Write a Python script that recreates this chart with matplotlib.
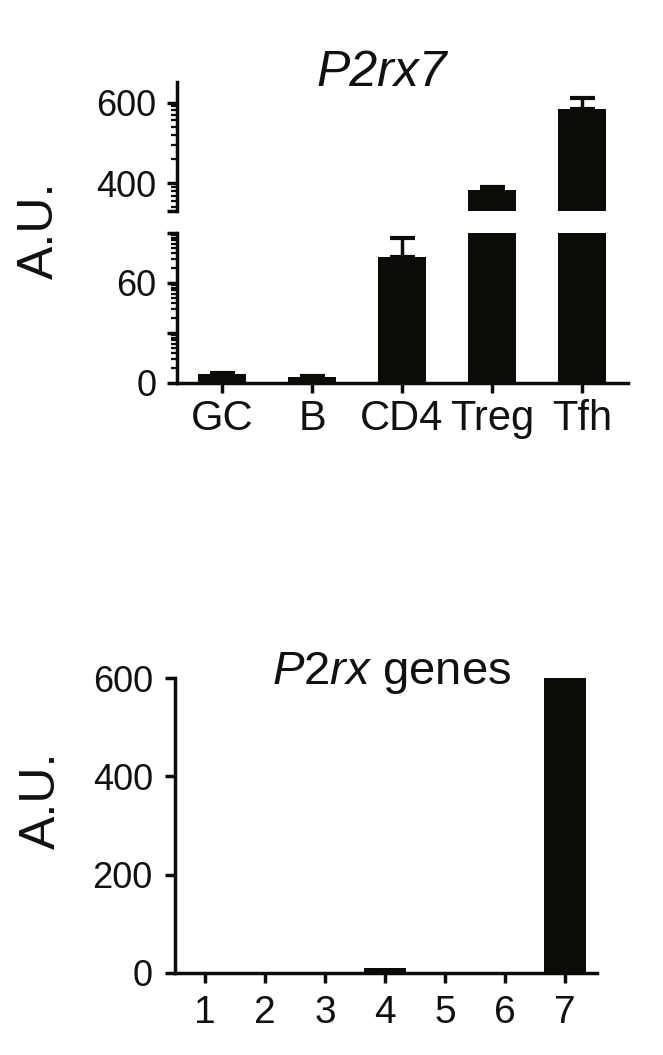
import numpy as np
import matplotlib
matplotlib.use("Agg")
import matplotlib.pyplot as plt

plt.rcParams['font.family'] = ['Liberation Sans', 'DejaVu Sans']
plt.rcParams['mathtext.fontset'] = 'custom'
plt.rcParams['mathtext.rm'] = 'Liberation Sans'
plt.rcParams['mathtext.it'] = 'Liberation Sans:italic'

# P2rx7 expression per cell type
cells = ['GC', 'B', 'CD4', 'Treg', 'Tfh']
p2rx7_mean = [5.0, 3.5, 75.5, 383, 584]
p2rx7_sem = [0.8, 0.5, 11.5, 8, 27]

# P2rx family genes
genes = ['1', '2', '3', '4', '5', '6', '7']
genes_val = [0, 0, 0, 9, 0, 0, 600]

dark = '#0d0b07'
txt = '#111111'
W, H = 663, 1055


def px_box(left, top, right, bottom):
    return [left / W, 1 - bottom / H, (right - left) / W, (bottom - top) / H]


def log_minor(starts, step, lo, hi):
    out = []
    for a in starts:
        for k in range(2, 10):
            v = a + step * np.log10(k)
            if lo < v < hi:
                out.append(v)
    return out


def style(ax):
    for s in ['top', 'right']:
        ax.spines[s].set_visible(False)
    for s in ['left', 'bottom']:
        ax.spines[s].set_linewidth(2.5)
        ax.spines[s].set_color(dark)
    ax.tick_params(which='major', direction='out', length=7, width=2.5, color=dark)
    ax.tick_params(which='minor', direction='out', length=4, width=1.6, color=dark)
    ax.tick_params(axis='y', labelsize=26, labelcolor=txt, pad=8)


fig = plt.figure(figsize=(W / 100, H / 100), dpi=100)

# --- top: broken axis ---
ax_hi = fig.add_axes(px_box(177, 82, 628, 211))
ax_lo = fig.add_axes(px_box(177, 232.7, 628, 382.7))
x = np.arange(len(cells))
lower_err = np.zeros(len(cells))
for ax in (ax_hi, ax_lo):
    ax.bar(x, p2rx7_mean, width=0.53, color=dark, zorder=2)
    ax.errorbar(x, p2rx7_mean, yerr=[lower_err, p2rx7_sem], fmt='none',
                ecolor=dark, elinewidth=2.5, capsize=9, capthick=3, zorder=3)
    ax.set_xlim(-0.5, 4.51)
    style(ax)

ax_hi.set_ylim(331, 651)
ax_hi.spines['bottom'].set_visible(False)
ax_hi.set_xticks([])
ax_hi.set_yticks([331, 400, 600])
ax_hi.set_yticklabels(['', '400', '600'])
ax_hi.set_yticks(log_minor([200, 400, 600], 200, 331, 651), minor=True)

ax_lo.set_ylim(0, 90)
ax_lo.set_yticks([0, 30, 60, 90])
ax_lo.set_yticklabels(['0', '', '60', ''])
ax_lo.set_yticks(log_minor([0, 30, 60], 30, 0, 90), minor=True)
ax_lo.set_xticks(x)
ax_lo.set_xticklabels(cells)
ax_lo.tick_params(axis='x', labelsize=30, labelcolor=txt, pad=5)

fig.text(381.7 / W, 1 - 86 / H, 'P2rx7', style='italic', fontsize=36,
         ha='center', va='baseline', color=txt)
fig.text(40 / W, 1 - 230 / H, 'A.U.', rotation=90, fontsize=36,
         ha='center', va='center', color=txt)

# --- bottom: P2rx genes ---
ax_b = fig.add_axes(px_box(175, 678.3, 596.7, 972.7))
xb = np.arange(1, len(genes) + 1)
ax_b.bar(xb, genes_val, width=0.69, color=dark)
ax_b.set_xlim(0.5, 7.53)
ax_b.set_ylim(0, 600)
style(ax_b)
ax_b.set_yticks([0, 200, 400, 600])
ax_b.set_xticks(xb)
ax_b.set_xticklabels(genes)
ax_b.tick_params(axis='x', labelsize=28, labelcolor=txt, pad=9)
ax_b.tick_params(axis='y', pad=9)

fig.text(391.7 / W, 1 - 684 / H, r'$\it{P2rx}$ genes', fontsize=34,
         ha='center', va='baseline', color=txt)
fig.text(42 / W, 1 - 800 / H, 'A.U.', rotation=90, fontsize=36,
         ha='center', va='center', color=txt)

fig.savefig('out.png', dpi=100)
